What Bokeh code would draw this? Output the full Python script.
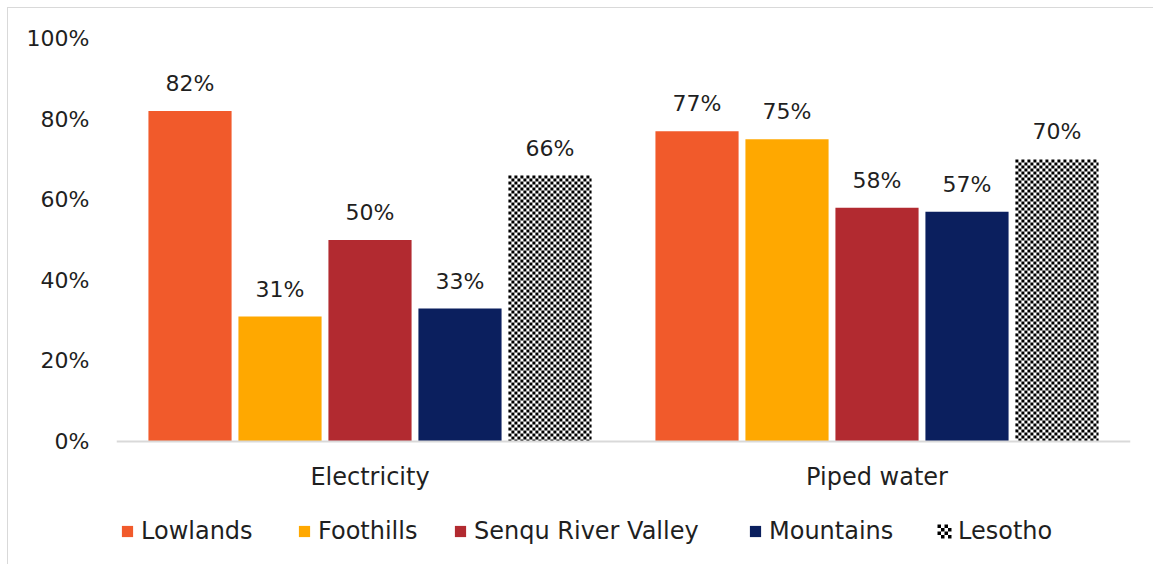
import math
from bokeh.plotting import figure
from bokeh.models import (ColumnDataSource, FactorRange, Range1d, NumeralTickFormatter,
                          Legend, LegendItem, Span)
from bokeh.transform import dodge
from bokeh.core.properties import value
from bokeh.embed import file_html
from bokeh.resources import INLINE

categories = ["Electricity", "Piped water"]
series = ["Lowlands", "Foothills", "Senqu River Valley", "Mountains", "Lesotho"]
lowlands = [82, 77]
foothills = [31, 75]
senqu = [50, 58]
mountains = [33, 57]
lesotho = [66, 70]
values = [lowlands, foothills, senqu, mountains, lesotho]
colors = ["#F15A2B", "#FFA800", "#B22A30", "#0B1F5E", "#FFFFFF"]
y_ticks = [0, 0.2, 0.4, 0.6, 0.8, 1.0]

FONT = "DejaVu Sans"
TXT = "#1f1f1f"

FRAME_W, PX_PER_UNIT_Y = 1014, 403
XU = 2 / FRAME_W          # x data units per pixel
YU = 1 / PX_PER_UNIT_Y    # y data units per pixel

# frame: top = 100%, extends below the 0% line to hold category labels and legend
p = figure(x_range=FactorRange(factors=categories, range_padding=0),
           y_range=Range1d(-124 * YU, 1.0),
           width=1146, height=557, output_backend="svg", toolbar_location=None,
           min_border_left=108, min_border_right=24, min_border_top=30,
           min_border_bottom=0)
p.styles = {"margin-left": "7px", "margin-top": "7px",
            "border-left": "1px solid #d9d9d9", "border-top": "1px solid #d9d9d9"}
p.outline_line_color = None
p.xgrid.visible = False
p.ygrid.visible = False
p.xaxis.visible = False

p.add_layout(Span(location=0, dimension="width", line_color="#d9d9d9", line_width=2))

offsets = [-0.355, -0.1775, 0.0, 0.1775, 0.355]
width = 0.164
renderers = []
for name, vals, col, off in zip(series, values, colors, offsets):
    src = ColumnDataSource(dict(cat=categories, val=[v / 100 for v in vals],
                                lab=[f"{v}%" for v in vals]))
    r = p.vbar(x=dodge("cat", off, range=p.x_range), top="val", bottom=0, width=width,
               source=src, fill_color=col, line_color=None)
    p.text(x=dodge("cat", off, range=p.x_range), y="val", text="lab", source=src,
           text_align="center", text_baseline="bottom", y_offset=-15,
           text_font=value(FONT), text_font_size="22px", text_color=TXT)
    renderers.append(r)


def checker_cells(left, right, top, bottom, cw, ch):
    L, R, B, T = [], [], [], []
    nx = math.ceil(round((right - left) / cw, 6))
    ny = math.ceil(round((top - bottom) / ch, 6))
    for iy in range(ny):
        for ix in range(nx):
            if (ix + iy) % 2 == 0:
                L.append(left + ix * cw)
                R.append(min(left + (ix + 1) * cw, right))
                T.append(top - iy * ch)
                B.append(max(top - (iy + 1) * ch, bottom))
    return L, R, B, T


# checkerboard fill of the Lesotho bars (3 px cells), derived from the Lesotho values
cells = [[], [], [], []]
for i, v in enumerate(lesotho):
    left = i + 0.5 + offsets[4] - width / 2
    res = checker_cells(left, left + width, v / 100, 0, 3 * XU, 3 * YU)
    for acc, part in zip(cells, res):
        acc.extend(part)

# legend layout (pixels from the frame's left edge; glyph top below the 0% line)
legend_x = [4, 181, 337, 632, 821]
LEG_GLYPH = 14
LEG_TOP_PX = 83

# checker swatch for the Lesotho legend entry
sw_left = legend_x[4] * XU
res = checker_cells(sw_left, sw_left + LEG_GLYPH * XU, -LEG_TOP_PX * YU,
                    -(LEG_TOP_PX + LEG_GLYPH) * YU, 3.5 * XU, 3.5 * YU)
for acc, part in zip(cells, res):
    acc.extend(part)
p.quad(left=cells[0], right=cells[1], bottom=cells[2], top=cells[3],
       fill_color="black", line_color=None)

# legend-only (invisible) glyph for Lesotho; its swatch is drawn above
leg_src = ColumnDataSource(dict(cat=[], val=[]))
renderers[4] = p.vbar(x="cat", top="val", width=width, source=leg_src,
                      fill_alpha=0, line_color=None)

p.text(x="cat", y="y", text="cat",
       source=ColumnDataSource(dict(cat=categories, y=[0, 0])),
       text_align="center", text_baseline="middle", y_offset=35,
       text_font=value(FONT), text_font_size="24px", text_color=TXT)

p.yaxis.ticker = y_ticks
p.yaxis.formatter = NumeralTickFormatter(format="0%")
p.yaxis.axis_line_color = None
p.yaxis.major_tick_line_color = None
p.yaxis.minor_tick_line_color = None
p.yaxis.major_label_standoff = 21
p.yaxis.major_label_text_font = FONT
p.yaxis.major_label_text_font_size = "22px"
p.yaxis.major_label_text_color = TXT

for name, r, lx in zip(series, renderers, legend_x):
    lg = Legend(items=[LegendItem(label=name, renderers=[r])], location=(lx, 20),
                label_text_font=FONT, label_text_font_size="24px",
                label_text_color=TXT, glyph_width=LEG_GLYPH, glyph_height=LEG_GLYPH,
                label_standoff=7, padding=0, margin=0,
                border_line_color=None, background_fill_alpha=0)
    p.add_layout(lg, "center")

open("out.html", "w").write(file_html(p, INLINE))
